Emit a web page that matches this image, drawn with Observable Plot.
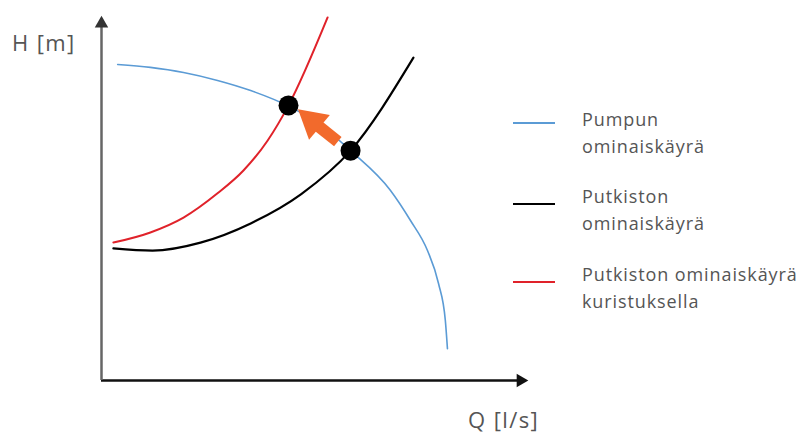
<!DOCTYPE html>
<html>
<head>
<meta charset="utf-8">
<script src="https://cdn.jsdelivr.net/npm/d3@7"></script>
<script src="https://cdn.jsdelivr.net/npm/@observablehq/plot@0.6"></script>
<style>
  body { margin: 0; background: #fff; }
  #wrap { position: relative; width: 803px; height: 437px; font-family: "Open Sans", sans-serif; color: #555; }
  #wrap svg { position: absolute; left: 0; top: 0; }
  .lab { position: absolute; font-size: 22px; letter-spacing: 1.4px; color: #555; white-space: nowrap; }
  .leg { position: absolute; left: 513px; }
  .leg .sw { position: absolute; left: 0; width: 42px; height: 2px; }
  .leg .tx { position: absolute; left: 69px; font-size: 18px; letter-spacing: 0.9px; line-height: 27px; white-space: nowrap; color: #555; }
</style>
</head>
<body>
<div id="wrap"></div>
<script>
// Pump characteristic curve (Q, H)
const pumpQ = [3.8, 11.5, 19.3, 27.3, 35.1, 44.0, 51.5, 58.6, 68.0, 72.7, 76.7, 79.3, 80.9, 81.4];
const pumpH = [87.3, 86.5, 85.1, 82.9, 80.1, 75.8, 70.6, 63.5, 52.5, 44.2, 35.9, 26.8, 16.6, 8.8];
// Pipe system characteristic curve
const pipeQ = [2.8, 12.0, 23.3, 35.1, 47.0, 58.6, 73.4];
const pipeH = [36.5, 35.9, 38.1, 43.4, 51.5, 63.5, 89.2];
// Pipe system curve with throttling
const throttQ = [2.8, 11.5, 19.3, 27.3, 33.4, 39.1, 44.0, 53.2];
const throttH = [38.1, 40.9, 45.0, 51.7, 58.0, 66.3, 76.0, 100.3];
// Operating points
const opQ = [44, 58.6];
const opH = [76.0, 63.5];
// Shift arrow (from original to throttled operating point)
const shiftFrom = [55.6, 66.0];
const shiftTo = [49.6, 71.6];
// Labels
const legendLabels = ["Pumpun\nominaiskäyrä", "Putkiston\nominaiskäyrä", "Putkiston ominaiskäyrä\nkuristuksella"];
const legendColors = ["#5b9bd5", "#000000", "#e0222a"];
const axisLabels = ["H [m]", "Q [l/s]"];

const toPts = (qs, hs) => qs.map((q, i) => ({q, h: hs[i]}));
const pump = toPts(pumpQ, pumpH);
const pipe = toPts(pipeQ, pipeH);
const throt = toPts(throttQ, throttH);
const ops = toPts(opQ, opH);

const chart = Plot.plot({
  width: 803,
  height: 437,
  marginLeft: 101,
  marginRight: 277,
  marginTop: 18,
  marginBottom: 57,
  x: {domain: [0, 100], axis: null},
  y: {domain: [0, 100], axis: null},
  marks: [
    // axes
    Plot.ruleY([0], {x1: 0, x2: 98, stroke: "#111", strokeWidth: 2.5}),
    Plot.ruleX([0], {y1: 0, y2: 98, stroke: "#666", strokeWidth: 2.5}),
    Plot.dot([{q: 98.6, h: 0}], {x: "q", y: "h", symbol: "triangle", r: 5, fill: "#111", stroke: null, rotate: 90}),
    Plot.dot([{q: 0, h: 98.6}], {x: "q", y: "h", symbol: "triangle", r: 5, fill: "#333", stroke: null}),
    // curves
    Plot.line(pump, {x: "q", y: "h", curve: "monotone-x", stroke: legendColors[0], strokeWidth: 1.6}),
    Plot.line(pipe, {x: "q", y: "h", curve: "monotone-x", stroke: legendColors[1], strokeWidth: 2.2}),
    Plot.line(throt, {x: "q", y: "h", curve: "monotone-x", stroke: legendColors[2], strokeWidth: 2}),
    // shift arrow
    Plot.link([{x1: shiftFrom[0], y1: shiftFrom[1], x2: shiftTo[0], y2: shiftTo[1]}], {x1: "x1", y1: "y1", x2: "x2", y2: "y2", stroke: "#f26a2c", strokeWidth: 12}),
    Plot.dot([{q: shiftTo[0], h: shiftTo[1]}], {x: "q", y: "h", symbol: "triangle", r: 12, fill: "#f26a2c", stroke: null, rotate: -50}),
    // operating points
    Plot.dot(ops, {x: "q", y: "h", r: 10, fill: "#000"})
  ]
});

const wrap = document.getElementById("wrap");
wrap.appendChild(chart);

const hl = document.createElement("div");
hl.className = "lab"; hl.style.left = "12px"; hl.style.top = "27px"; hl.textContent = axisLabels[0];
wrap.appendChild(hl);
const ql = document.createElement("div");
ql.className = "lab"; ql.style.left = "468px"; ql.style.top = "404px"; ql.textContent = axisLabels[1];
wrap.appendChild(ql);

const legTops = [123, 204, 282];
const txtTops = [106, 183, 261];
legendLabels.forEach((lab, i) => {
  const sw = document.createElement("div");
  sw.className = "leg";
  sw.style.top = "0px";
  const line = document.createElement("div");
  line.className = "sw"; line.style.top = (legTops[i] - 1) + "px"; line.style.background = legendColors[i];
  const tx = document.createElement("div");
  tx.className = "tx"; tx.style.top = txtTops[i] + "px";
  tx.innerHTML = lab.split("\n").join("<br>");
  sw.appendChild(line); sw.appendChild(tx);
  wrap.appendChild(sw);
});
</script>
</body>
</html>
